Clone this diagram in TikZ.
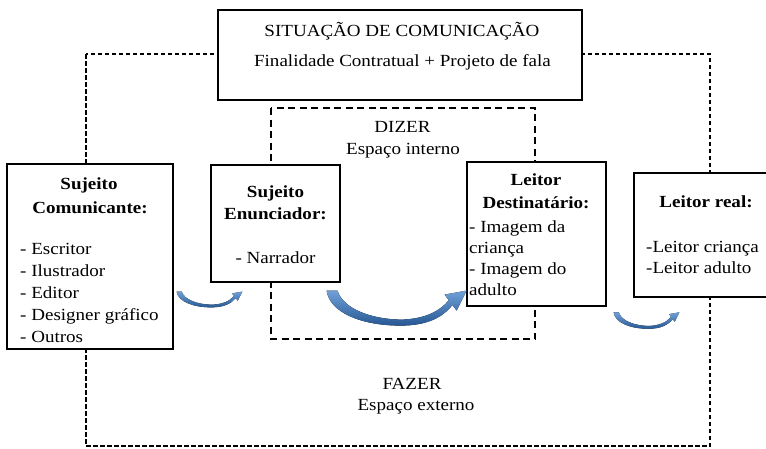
\documentclass[tikz,border=0pt]{standalone}
\usepackage{fontspec}
\setmainfont{Liberation Serif}[FakeStretch=1.12]
\usepackage{tikz}
\usetikzlibrary{calc}

\definecolor{arclight}{RGB}{112,160,214}
\definecolor{arcdark}{RGB}{38,88,148}

\tikzset{
  box/.style={draw=black, line width=1.2pt, fill=white, inner sep=0pt},
  zoneout/.style={draw=black, line width=1.1pt, dash pattern=on 4.5pt off 2.5pt},
  zonein/.style={draw=black, line width=1.1pt, dash pattern=on 7pt off 4.5pt},
  txt/.style={anchor=base, inner sep=0pt, font=\fontsize{17}{21}\selectfont},
  head/.style={txt, font=\fontsize{17}{21}\selectfont\bfseries},
  item/.style={txt, anchor=base west},
  arcfill/.style={top color=arclight, bottom color=arcdark, draw=none},
  bluearc/.pic={
    \fill[arcfill] (0,0) .. controls (3,22) and (35,35) .. (74,35)
      .. controls (100,35) and (116,27) .. (125.8,14.4) -- (130,20)
      -- (140,0) -- (118,4) -- (122.2,9.6)
      .. controls (113,21) and (98,28) .. (76,29)
      .. controls (45,29) and (16,18) .. (11,0) -- cycle;
  }
}

\begin{document}
\begin{tikzpicture}[x=1pt,y=-1pt]
  \useasboundingbox (0,0) rectangle (766,448);

  % espaco externo e interno
  \draw[zoneout] (86,54) rectangle (710,446);
  \draw[zonein] (271,108) rectangle (535,339);

  % caixas
  \node[box, minimum width=364pt, minimum height=90pt] (situacao) at (400,55) {};
  \node[box, minimum width=166pt, minimum height=185pt] (comunicante) at (90,256.5) {};
  \node[box, minimum width=129pt, minimum height=117pt] (enunciador) at (275.5,223.5) {};
  \node[box, minimum width=139pt, minimum height=144pt] (destinatario) at (536.5,234) {};
  \node[box, minimum width=144pt, minimum height=124pt] (leitorreal) at (706,235) {};

  % situacao de comunicacao
  \node[txt] (sit1) at (402,36) {SITUAÇÃO DE COMUNICAÇÃO};
  \node[txt] (sit2) at (402.5,66) {Finalidade Contratual + Projeto de fala};

  \node[txt] (dizer) at (402.5,132) {DIZER};
  \node[txt] (dizer2) at (403,154) {Espaço interno};
  \node[txt] (fazer) at (412,389) {FAZER};
  \node[txt] (fazer2) at (416,410) {Espaço externo};

  % sujeito comunicante
  \node[head] (com1) at (89,189) {Sujeito};
  \node[head] (com2) at (90,213) {Comunicante:};
  \foreach \txt [count=\i] in {- Escritor, - Ilustrador, - Editor, - Designer gráfico, - Outros}
    \node[item] (comi\i) at (20,{254+22*(\i-1)}) {\txt};

  % sujeito enunciador
  \node[head] (enu1) at (275.5,197) {Sujeito};
  \node[head] (enu2) at (275.5,219) {Enunciador:};
  \node[txt] (enu3) at (275.5,263) {- Narrador};

  % leitor destinatario
  \node[head] (des1) at (536,185) {Leitor};
  \node[head] (des2) at (536,208) {Destinatário:};
  \node[item] (desi1) at (469,232) {- Imagem da};
  \node[item] (desi2) at (469,253) {criança};
  \node[item] (desi3) at (469,274) {- Imagem do};
  \node[item] (desi4) at (469,295) {adulto};

  % leitor real
  \node[head] (real1) at (706,207) {Leitor real:};
  \node[item] (reali1) at (646,252) {-Leitor criança};
  \node[item] (reali2) at (646,273) {-Leitor adulto};

  % setas
  \coordinate (a1) at ($(comunicante.south east)+(3,-58)$);
  \coordinate (a2) at ($(enunciador.south east)+(-14,8)$);
  \coordinate (a3) at ($(destinatario.south east)+(7,5.7)$);
  \pic[xscale=0.47, yscale=0.45] at (a1) {bluearc};
  \pic at (a2) {bluearc};
  \pic[xscale=0.47, yscale=0.47] at (a3) {bluearc};
\end{tikzpicture}
\end{document}
